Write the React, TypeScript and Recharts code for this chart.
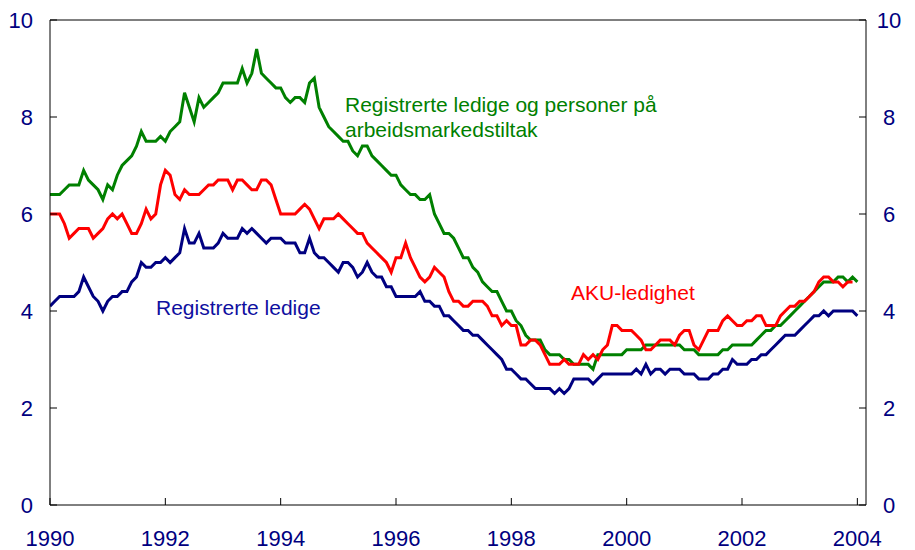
import React from 'react';
import { LineChart, Line, XAxis, YAxis, ReferenceLine } from 'recharts';

const START_YEAR = 1990;

// Registrerte ledige og personer på arbeidsmarkedstiltak (monthly, Jan 1990 - Jan 2004)
const regLedigeTiltak = [
  6.4, 6.4, 6.4, 6.5, 6.6, 6.6, 6.6, 6.9, 6.7, 6.6, 6.5, 6.3,
  6.6, 6.5, 6.8, 7.0, 7.1, 7.2, 7.4, 7.7, 7.5, 7.5, 7.5, 7.6,
  7.5, 7.7, 7.8, 7.9, 8.5, 8.2, 7.9, 8.4, 8.2, 8.3, 8.4, 8.5,
  8.7, 8.7, 8.7, 8.7, 9.0, 8.7, 8.9, 9.4, 8.9, 8.8, 8.7, 8.6,
  8.6, 8.4, 8.3, 8.4, 8.4, 8.3, 8.7, 8.8, 8.2, 8.0, 7.8, 7.7,
  7.6, 7.5, 7.5, 7.3, 7.2, 7.4, 7.4, 7.2, 7.1, 7.0, 6.9, 6.8,
  6.8, 6.6, 6.5, 6.4, 6.4, 6.3, 6.3, 6.4, 6.0, 5.8, 5.6, 5.6,
  5.5, 5.3, 5.1, 5.1, 4.9, 4.8, 4.6, 4.5, 4.4, 4.4, 4.2, 4.0,
  4.0, 3.8, 3.7, 3.5, 3.4, 3.4, 3.4, 3.2, 3.1, 3.1, 3.1, 3.0,
  3.0, 2.9, 2.9, 2.9, 2.9, 2.8, 3.1, 3.1, 3.1, 3.1, 3.1, 3.1,
  3.2, 3.2, 3.2, 3.2, 3.3, 3.3, 3.3, 3.3, 3.3, 3.3, 3.3, 3.3,
  3.2, 3.2, 3.2, 3.1, 3.1, 3.1, 3.1, 3.1, 3.2, 3.2, 3.3, 3.3,
  3.3, 3.3, 3.3, 3.4, 3.5, 3.6, 3.6, 3.7, 3.7, 3.8, 3.9, 4.0,
  4.1, 4.2, 4.3, 4.4, 4.5, 4.6, 4.6, 4.6, 4.7, 4.7, 4.6, 4.7,
  4.6,
];

// AKU-ledighet
const akuLedighet: (number | null)[] = [
  6.0, 6.0, 6.0, 5.8, 5.5, 5.6, 5.7, 5.7, 5.7, 5.5, 5.6, 5.7,
  5.9, 6.0, 5.9, 6.0, 5.8, 5.6, 5.6, 5.8, 6.1, 5.9, 6.0, 6.6,
  6.9, 6.8, 6.4, 6.3, 6.5, 6.4, 6.4, 6.4, 6.5, 6.6, 6.6, 6.7,
  6.7, 6.7, 6.5, 6.7, 6.7, 6.6, 6.5, 6.5, 6.7, 6.7, 6.6, 6.3,
  6.0, 6.0, 6.0, 6.0, 6.1, 6.2, 6.1, 5.9, 5.7, 5.9, 5.9, 5.9,
  6.0, 5.9, 5.8, 5.7, 5.6, 5.6, 5.4, 5.3, 5.2, 5.1, 5.0, 4.8,
  5.1, 5.1, 5.4, 5.1, 4.9, 4.7, 4.6, 4.7, 4.9, 4.8, 4.7, 4.4,
  4.2, 4.2, 4.1, 4.1, 4.2, 4.2, 4.2, 4.1, 3.9, 3.9, 3.7, 3.8,
  3.7, 3.7, 3.3, 3.3, 3.4, 3.4, 3.3, 3.1, 2.9, 2.9, 2.9, 3.0,
  2.9, 2.9, 2.9, 3.1, 3.0, 3.1, 3.0, 3.2, 3.3, 3.7, 3.7, 3.6,
  3.6, 3.6, 3.5, 3.4, 3.2, 3.2, 3.3, 3.4, 3.4, 3.4, 3.3, 3.5,
  3.6, 3.6, 3.3, 3.2, 3.4, 3.6, 3.6, 3.6, 3.8, 3.9, 3.8, 3.7,
  3.7, 3.8, 3.8, 3.9, 3.9, 3.7, 3.7, 3.7, 3.9, 4.0, 4.1, 4.1,
  4.2, 4.2, 4.3, 4.4, 4.6, 4.7, 4.7, 4.6, 4.6, 4.5, 4.6, 4.6,
  null,
];

// Registrerte ledige
const regLedige = [
  4.1, 4.2, 4.3, 4.3, 4.3, 4.3, 4.4, 4.7, 4.5, 4.3, 4.2, 4.0,
  4.2, 4.3, 4.3, 4.4, 4.4, 4.6, 4.7, 5.0, 4.9, 4.9, 5.0, 5.0,
  5.1, 5.0, 5.1, 5.2, 5.7, 5.4, 5.4, 5.6, 5.3, 5.3, 5.3, 5.4,
  5.6, 5.5, 5.5, 5.5, 5.7, 5.6, 5.7, 5.6, 5.5, 5.4, 5.5, 5.5,
  5.5, 5.4, 5.4, 5.4, 5.2, 5.2, 5.5, 5.2, 5.1, 5.1, 5.0, 4.9,
  4.8, 5.0, 5.0, 4.9, 4.7, 4.8, 5.0, 4.8, 4.7, 4.7, 4.5, 4.5,
  4.3, 4.3, 4.3, 4.3, 4.3, 4.4, 4.2, 4.2, 4.1, 4.1, 3.9, 3.9,
  3.8, 3.7, 3.6, 3.6, 3.5, 3.5, 3.4, 3.3, 3.2, 3.1, 3.0, 2.8,
  2.8, 2.7, 2.6, 2.6, 2.5, 2.4, 2.4, 2.4, 2.4, 2.3, 2.4, 2.3,
  2.4, 2.6, 2.6, 2.6, 2.6, 2.5, 2.6, 2.7, 2.7, 2.7, 2.7, 2.7,
  2.7, 2.7, 2.8, 2.7, 2.9, 2.7, 2.8, 2.8, 2.7, 2.8, 2.8, 2.8,
  2.7, 2.7, 2.7, 2.6, 2.6, 2.6, 2.7, 2.7, 2.8, 2.8, 3.0, 2.9,
  2.9, 2.9, 3.0, 3.0, 3.1, 3.1, 3.2, 3.3, 3.4, 3.5, 3.5, 3.5,
  3.6, 3.7, 3.8, 3.9, 3.9, 4.0, 3.9, 4.0, 4.0, 4.0, 4.0, 4.0,
  3.9,
];

const xTicks = [1990, 1992, 1994, 1996, 1998, 2000, 2002, 2004];
const yTicks = [0, 2, 4, 6, 8, 10];

const data = regLedige.map((v, i) => ({
  t: START_YEAR + i / 12,
  reg: v,
  aku: akuLedighet[i],
  tiltak: regLedigeTiltak[i],
}));

const FONT = 'Liberation Sans, Arial, sans-serif';
const TICK_COLOR = '#000080';
const GREEN = '#008000';
const RED = '#ff0000';
const BLUE = '#000080';

export default function App() {
  return (
    <div style={{ position: 'absolute', left: 0, top: 0, width: 915, height: 550, background: '#fff' }}>
      <LineChart
        width={915}
        height={550}
        data={data}
        margin={{ top: 20, right: 0, bottom: 0, left: 0 }}
        style={{ fontFamily: FONT }}
      >
        <XAxis
          dataKey="t"
          type="number"
          domain={[1990, 2004.15]}
          ticks={xTicks}
          interval={0}
          allowDataOverflow
          height={45}
          stroke="#000"
          tickSize={-7}
          tickMargin={32}
          tick={{ fill: TICK_COLOR, fontSize: 22, fontFamily: FONT }}
        />
        <YAxis
          yAxisId="left"
          orientation="left"
          domain={[0, 10]}
          ticks={yTicks}
          interval={0}
          allowDataOverflow
          width={50}
          stroke="#000"
          tickSize={-7}
          tickMargin={24}
          tick={{ fill: TICK_COLOR, fontSize: 22, fontFamily: FONT }}
        />
        <YAxis
          yAxisId="right"
          orientation="right"
          domain={[0, 10]}
          ticks={yTicks}
          interval={0}
          allowDataOverflow
          width={49}
          stroke="#000"
          tickSize={-7}
          tickMargin={30}
          tick={{ fill: TICK_COLOR, fontSize: 22, fontFamily: FONT, textAnchor: 'middle' }}
        />
        <ReferenceLine yAxisId="left" y={10} stroke="#000" strokeWidth={1} ifOverflow="visible" />
        <Line
          yAxisId="left"
          type="linear"
          dataKey="reg"
          stroke={BLUE}
          strokeWidth={3}
          dot={false}
          isAnimationActive={false}
        />
        <Line
          yAxisId="right"
          type="linear"
          dataKey="tiltak"
          stroke={GREEN}
          strokeWidth={3}
          dot={false}
          isAnimationActive={false}
        />
        <Line
          yAxisId="left"
          type="linear"
          dataKey="aku"
          stroke={RED}
          strokeWidth={3}
          dot={false}
          isAnimationActive={false}
        />
        <g style={{ fontFamily: FONT, fontSize: 21 }}>
          <text x={345} y={112} fill={GREEN} fontSize={21} fontFamily={FONT}>
            Registrerte ledige og personer på
          </text>
          <text x={345} y={137} fill={GREEN} fontSize={21} fontFamily={FONT}>
            arbeidsmarkedstiltak
          </text>
          <text x={156} y={315} fill="#0f0fa0" fontSize={21} fontFamily={FONT}>
            Registrerte ledige
          </text>
          <text x={571} y={300} fill={RED} fontSize={21} fontFamily={FONT}>
            AKU-ledighet
          </text>
        </g>
      </LineChart>
    </div>
  );
}
